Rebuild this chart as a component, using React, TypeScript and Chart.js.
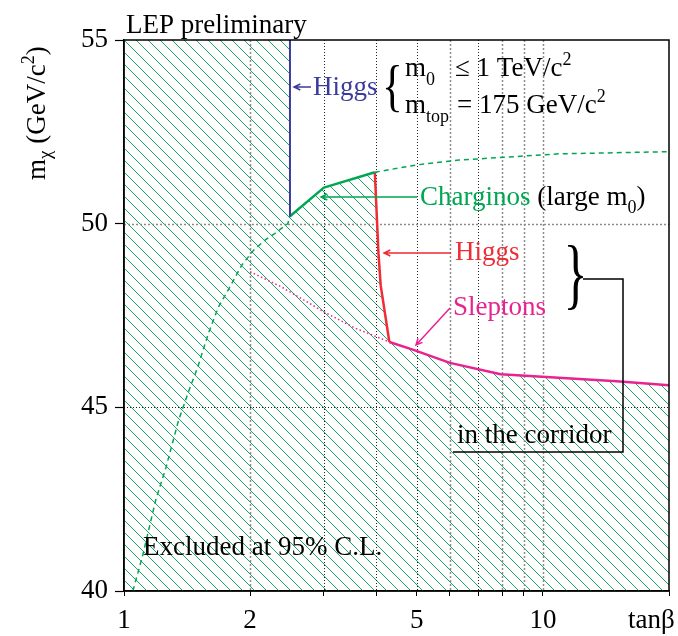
import React, { useEffect, useRef } from 'react';
import { Chart, registerables } from 'chart.js';
Chart.register(...registerables);

const FONT = '"Liberation Serif", "Times New Roman", serif';

// axes
const xMin = 1;
const xMax = 20;
const yMin = 40;
const yMax = 55;
const xTickValues = [1, 2, 3, 4, 5, 6, 7, 8, 9, 10, 20];
const xTickLabels = ['1', '2', '', '', '5', '', '', '', '', '10', ''];
const yTickValues = [40, 45, 50, 55];
const yTickLabels = ['40', '45', '50', '55'];
const xGridValues = [2, 3, 4, 5, 6, 7, 8, 9, 10];
const xGridGrey = [2, 6, 8, 9, 10];
const yGridValues = [45, 50];
const yGridGrey = [50];

// curves (tanβ, mχ)
const higgsBlueX = [2.49, 2.49];
const higgsBlueY = [55, 50.2];
const charginoX = [2.49, 3.0, 3.97];
const charginoY = [50.2, 50.98, 51.4];
const higgsRedX = [3.97, 4.05, 4.1, 4.3];
const higgsRedY = [51.4, 49.19, 48.32, 46.78];
const sleptonX = [4.3, 4.89, 6.0, 7.93, 15.0, 20.0];
const sleptonY = [46.78, 46.57, 46.21, 45.9, 45.71, 45.6];
const sleptonDotX = [2.0, 2.375, 3.0, 3.54, 4.3];
const sleptonDotY = [48.69, 48.28, 47.6, 47.17, 46.78];
const charginoLargeLowX = [1.05, 1.11, 1.19, 1.26, 1.35, 1.42, 1.5, 1.59, 1.68, 1.78, 1.91, 2.04, 2.17, 2.29, 2.46, 2.49];
const charginoLargeLowY = [40, 41, 42.47, 43.37, 44.65, 45.37, 46.1, 47.01, 47.73, 48.23, 48.87, 49.28, 49.55, 49.73, 50.0, 50.2];
const charginoLargeHighX = [3.97, 5.0, 6.3, 10.9, 20];
const charginoLargeHighY = [51.4, 51.6, 51.73, 51.9, 51.96];

const BLUE = '#3b3b9d';
const GREEN = '#00a651';
const HATCH = '#1fa862';
const RED = '#ee2d36';
const MAGENTA = '#e8238f';

const pts = (xs: number[], ys: number[]) => xs.map((x, i) => ({ x, y: ys[i] }));

type Part = { t: string; size?: number; dy?: number; color?: string; x?: number };
function drawRich(ctx: CanvasRenderingContext2D, x: number, y: number, parts: Part[]) {
  let cx = x;
  ctx.textAlign = 'left';
  ctx.textBaseline = 'alphabetic';
  for (const p of parts) {
    if (p.x !== undefined) cx = p.x;
    ctx.font = `${p.size ?? 27}px ${FONT}`;
    ctx.fillStyle = p.color ?? '#000';
    ctx.fillText(p.t, cx, y + (p.dy ?? 0));
    cx += ctx.measureText(p.t).width;
  }
}

function drawBrace(ctx: CanvasRenderingContext2D, ch: string, x0: number, y0: number, x1: number, y1: number) {
  ctx.save();
  ctx.font = `100px ${FONT}`;
  ctx.textAlign = 'left';
  ctx.textBaseline = 'alphabetic';
  const m = ctx.measureText(ch);
  const inkL = -m.actualBoundingBoxLeft;
  const inkR = m.actualBoundingBoxRight;
  const inkT = -m.actualBoundingBoxAscent;
  const inkB = m.actualBoundingBoxDescent;
  const sx = (x1 - x0) / (inkR - inkL);
  const sy = (y1 - y0) / (inkB - inkT);
  ctx.translate(x0 - inkL * sx, y0 - inkT * sy);
  ctx.scale(sx, sy);
  ctx.fillStyle = '#000';
  ctx.fillText(ch, 0, 0);
  ctx.restore();
}

function arrow(ctx: CanvasRenderingContext2D, x1: number, y1: number, x2: number, y2: number, color: string, w = 1.5) {
  ctx.save();
  ctx.strokeStyle = color;
  ctx.lineWidth = w;
  ctx.setLineDash([]);
  ctx.beginPath();
  ctx.moveTo(x1, y1);
  ctx.lineTo(x2, y2);
  const a = Math.atan2(y2 - y1, x2 - x1);
  const L = 7;
  const s = 0.45;
  ctx.moveTo(x2 - L * Math.cos(a - s), y2 - L * Math.sin(a - s));
  ctx.lineTo(x2, y2);
  ctx.lineTo(x2 - L * Math.cos(a + s), y2 - L * Math.sin(a + s));
  ctx.stroke();
  ctx.restore();
}

const decor = {
  id: 'decor',
  beforeDatasetsDraw(chart: any) {
    const { ctx, chartArea: a, scales } = chart;
    const x = scales.x;
    const y = scales.y;
    ctx.save();
    for (const v of xGridValues) {
      const px = Math.round(x.getPixelForValue(v)) + 0.5;
      const grey = xGridGrey.includes(v);
      ctx.strokeStyle = grey ? '#8c8c8c' : '#222';
      ctx.lineWidth = grey ? 1.5 : 1;
      ctx.setLineDash(grey ? [2, 2] : [1, 2]);
      ctx.beginPath();
      ctx.moveTo(px, a.top);
      ctx.lineTo(px, a.bottom);
      ctx.stroke();
    }
    for (const v of yGridValues) {
      const py = Math.round(y.getPixelForValue(v)) + 0.5;
      const grey = yGridGrey.includes(v);
      ctx.strokeStyle = grey ? '#8c8c8c' : '#222';
      ctx.lineWidth = grey ? 1.5 : 1;
      ctx.setLineDash(grey ? [2, 2] : [1, 2]);
      ctx.beginPath();
      ctx.moveTo(a.left, py);
      ctx.lineTo(a.right, py);
      ctx.stroke();
    }
    ctx.restore();
  },
  afterDatasetsDraw(chart: any) {
    const { ctx, chartArea: a } = chart;
    ctx.save();
    ctx.setLineDash([]);
    ctx.strokeStyle = '#000';
    ctx.lineWidth = 1.5;
    ctx.strokeRect(a.left, a.top, a.right - a.left, a.bottom - a.top);

    // title & axis labels
    drawRich(ctx, 126, 33, [{ t: 'LEP preliminary' }]);
    drawRich(ctx, 628, 628, [{ t: 'tanβ' }]);
    ctx.save();
    ctx.translate(45, 180);
    ctx.rotate(-Math.PI / 2);
    drawRich(ctx, 0, 0, [
      { t: 'm' },
      { t: 'χ', size: 19, dy: 6 },
      { t: ' (GeV/c' },
      { t: '2', size: 18, dy: -11 },
      { t: ')' },
    ]);
    ctx.restore();

    // blue Higgs
    arrow(ctx, 311, 87, 294, 87, BLUE);
    drawRich(ctx, 313, 95, [{ t: 'Higgs', color: BLUE }]);

    // conditions
    drawBrace(ctx, '{', 386, 65, 399, 112);
    drawRich(ctx, 405, 76, [
      { t: 'm' },
      { t: '0', size: 18, dy: 9 },
      { t: '≤ 1 TeV/c', x: 455 },
      { t: '2', size: 18, dy: -11 },
    ]);
    drawRich(ctx, 405, 113, [
      { t: 'm' },
      { t: 'top', size: 18, dy: 9 },
      { t: '= 175 GeV/c', x: 457 },
      { t: '2', size: 18, dy: -11 },
    ]);

    // charginos
    arrow(ctx, 417, 197, 321, 197, GREEN);
    drawRich(ctx, 420, 205, [
      { t: 'Charginos', color: GREEN },
      { t: ' (large m' },
      { t: '0', size: 18, dy: 8 },
      { t: ')' },
    ]);

    // red Higgs
    arrow(ctx, 451, 253, 384, 253, RED);
    drawRich(ctx, 455, 260, [{ t: 'Higgs', color: RED }]);

    // sleptons
    arrow(ctx, 450, 308, 416, 345, MAGENTA);
    drawRich(ctx, 453, 315, [{ t: 'Sleptons', color: MAGENTA }]);

    // corridor
    drawBrace(ctx, '}', 568, 245, 583, 310);
    ctx.strokeStyle = '#000';
    ctx.lineWidth = 1.5;
    ctx.beginPath();
    ctx.moveTo(583, 279);
    ctx.lineTo(623, 279);
    ctx.lineTo(623, 452);
    ctx.lineTo(453, 452);
    ctx.stroke();
    drawRich(ctx, 457, 443, [{ t: 'in the corridor' }]);

    drawRich(ctx, 143, 555, [{ t: 'Excluded at 95% C.L.' }]);
    ctx.restore();
  },
};

export default function App() {
  const ref = useRef<HTMLCanvasElement>(null);
  useEffect(() => {
    const canvas = ref.current!;
    const pc = document.createElement('canvas');
    pc.width = 12;
    pc.height = 12;
    const pctx = pc.getContext('2d')!;
    pctx.strokeStyle = HATCH;
    pctx.lineWidth = 1;
    pctx.beginPath();
    for (const o of [-12, 0, 12]) {
      pctx.moveTo(o - 1, -1);
      pctx.lineTo(o + 13, 13);
    }
    pctx.stroke();
    const pattern = canvas.getContext('2d')!.createPattern(pc, 'repeat')!;

    const excluded = [
      { x: xMin, y: yMax },
      ...pts(higgsBlueX, higgsBlueY),
      ...pts(charginoX, charginoY).slice(1),
      ...pts(higgsRedX, higgsRedY).slice(1),
      ...pts(sleptonX, sleptonY).slice(1),
    ];

    const line = (xs: number[], ys: number[], color: string, width: number, dash: number[] = []) => ({
      data: pts(xs, ys),
      showLine: true,
      borderColor: color,
      borderWidth: width,
      borderDash: dash,
      pointRadius: 0,
      fill: false,
      borderJoinStyle: 'round',
    });

    const chart = new Chart(canvas, {
      type: 'scatter',
      data: {
        datasets: [
          {
            data: excluded,
            showLine: true,
            borderWidth: 0,
            borderColor: 'rgba(0,0,0,0)',
            backgroundColor: pattern,
            fill: 'start',
            pointRadius: 0,
          } as any,
          line(sleptonDotX, sleptonDotY, MAGENTA, 1.5, [1.5, 2.5]),
          line(charginoLargeLowX, charginoLargeLowY, GREEN, 1.5, [5, 4]),
          line(charginoLargeHighX, charginoLargeHighY, GREEN, 1.5, [5, 4]),
          line(higgsBlueX, higgsBlueY, BLUE, 2),
          line(charginoX, charginoY, GREEN, 2.5),
          line(higgsRedX, higgsRedY, RED, 2.5),
          line(sleptonX, sleptonY, MAGENTA, 2.5),
        ] as any,
      },
      options: {
        responsive: false,
        animation: false,
        devicePixelRatio: 1,
        layout: { padding: { left: 0, right: 3, top: 40, bottom: 0 } },
        plugins: {
          legend: { display: false },
          tooltip: { enabled: false },
          filler: { drawTime: 'beforeDatasetsDraw' },
        } as any,
        scales: {
          x: {
            type: 'logarithmic',
            min: xMin,
            max: xMax,
            position: 'bottom',
            afterBuildTicks: (s: any) => {
              s.ticks = xTickValues.map((v) => ({ value: v }));
            },
            afterFit: (s: any) => {
              s.height = 45;
            },
            ticks: {
              autoSkip: false,
              maxRotation: 0,
              minRotation: 0,
              padding: 9,
              color: '#000',
              font: { family: FONT, size: 27 },
              callback: (v: any) => xTickLabels[xTickValues.indexOf(Number(v))] ?? '',
            },
            grid: { drawOnChartArea: false, drawTicks: true, tickLength: 5, tickColor: '#000', tickWidth: 1 },
            border: { display: true, color: '#000', width: 1.5 },
          },
          y: {
            type: 'linear',
            min: yMin,
            max: yMax,
            afterBuildTicks: (s: any) => {
              s.ticks = yTickValues.map((v) => ({ value: v }));
            },
            afterFit: (s: any) => {
              s.width = 124;
            },
            ticks: {
              padding: 7,
              color: '#000',
              font: { family: FONT, size: 27 },
              callback: (v: any) => yTickLabels[yTickValues.indexOf(Number(v))] ?? '',
            },
            grid: { drawOnChartArea: false, drawTicks: true, tickLength: 9, tickColor: '#000', tickWidth: 1.2 },
            border: { display: true, color: '#000', width: 1.5 },
          },
        } as any,
      },
      plugins: [decor as any],
    });
    return () => chart.destroy();
  }, []);
  return (
    <div style={{ position: 'fixed', left: 0, top: 0, width: 678, height: 636, background: '#fff' }}>
      <canvas ref={ref} width={678} height={636} style={{ display: 'block' }} />
    </div>
  );
}
